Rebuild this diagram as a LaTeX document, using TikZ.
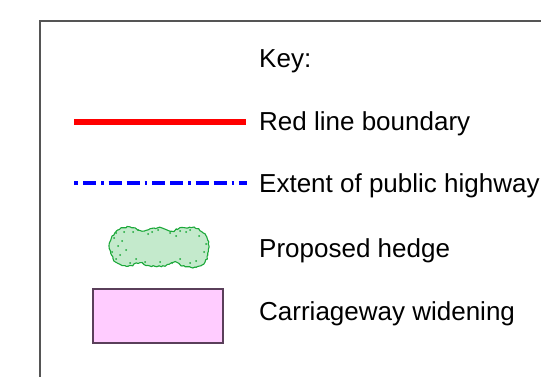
\documentclass[tikz,border=0pt]{standalone}
\usepackage{fontspec}
\setmainfont{Liberation Sans}
\usetikzlibrary{decorations.pathmorphing}
\definecolor{frame}{HTML}{555555}
\definecolor{hedgefill}{HTML}{C4EACC}
\definecolor{hedgeline}{HTML}{1CA83A}
\definecolor{widenfill}{HTML}{FFCCFF}
\definecolor{widenline}{HTML}{5A3F5A}
\begin{document}
\begin{tikzpicture}[x=1pt,y=-1pt,
  keytext/.style={anchor=base west,inner sep=0pt,font=\fontsize{26}{31}\selectfont},
  redline/.style={draw=red,line width=5.5pt},
  blueline/.style={draw=blue,line width=3.4pt,dash pattern=on 13pt off 5pt on 13pt off 5pt on 2.5pt off 5pt},
  hedge/.style={fill=hedgefill,draw=hedgeline,line width=1.1pt,decorate,decoration={random steps,segment length=2pt,amplitude=0.8pt}},
  widen/.style={fill=widenfill,draw=widenline,line width=1.2pt}]
\useasboundingbox (0,0) rectangle (541,377);
\draw[frame,line width=1.5pt] (40,390) -- (40,21) -- (560,21);
\node[keytext] (key) at (259,68) {Key:};
\node[keytext] (t1) at (259,131) {Red line boundary};
\node[keytext] (t2) at (259,193) {Extent of public highway};
\node[keytext] (t3) at (259,257) {Proposed hedge};
\node[keytext] (t4) at (259,320) {Carriageway widening};
\coordinate (r1) at (74,122); \coordinate (r2) at (246,122);
\draw[redline] (r1) -- (r2);
\coordinate (b1) at (74,183); \coordinate (b2) at (247,183);
\draw[blueline,dash phase=9pt] (b1) -- (b2);
\path[hedge] plot[smooth cycle] coordinates {(111,240) (118,230) (130,227) (142,231) (150,229) (162,228) (172,231) (180,228) (195,228) (205,234) (209,247) (205,262) (195,267) (182,266) (175,262) (165,266) (150,266) (140,263) (128,266) (116,262) (110,250)};
\foreach \p in {(114,238),(116,233),(118,246),(122,241),(126,250),(124,232),(133,232),(138,230),(148,234),(152,232),(158,230),(170,233),(176,236),(180,231),(186,232),(190,230),(199,236),(204,252),(206,244),(196,261),(190,263),(180,259),(172,263),(160,262),(145,262),(136,259),(130,263),(120,255),(112,252),(116,259)}
  \fill[hedgeline] \p circle (1pt);
\node[widen,minimum width=130pt,minimum height=54pt,inner sep=0pt] (cw) at (158,316) {};
\end{tikzpicture}
\end{document}
